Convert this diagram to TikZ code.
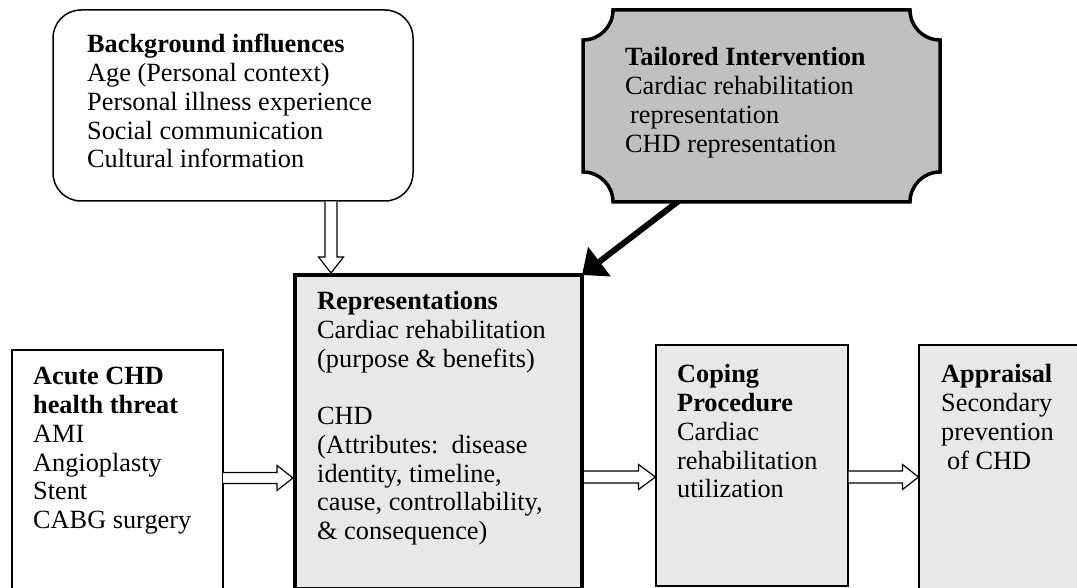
\documentclass[tikz,border=0pt]{standalone}
\usepackage{fontspec}
\setmainfont{Liberation Serif}
\usetikzlibrary{arrows.meta,calc}
\definecolor{lightbox}{RGB}{232,232,232}
\definecolor{tailgray}{RGB}{192,192,192}
\begin{document}
\begin{tikzpicture}[x=1pt,y=1pt,
  box/.style={draw=black, rectangle, inner sep=0pt, outer sep=0pt, anchor=north west},
  txt/.style={anchor=base west, inner sep=0pt, font=\fontsize{26.3}{28.7}\selectfont},
  blockarrow/.style={draw=black, fill=white, line width=1.2pt, line join=miter},
  bigarrow/.style={line width=6pt, -{Triangle[length=22pt,width=36pt]}}]
\useasboundingbox (0,0) rectangle (1077,588);

% boxes
\node[box, line width=1.5pt, rounded corners=28pt, fill=white,
      minimum width=360pt, minimum height=191pt] (bg) at (53,578) {};
\node[box, line width=1.2pt, fill=white,
      minimum width=211pt, minimum height=260pt] (acute) at (12,238) {};
\node[box, line width=4pt, fill=lightbox,
      minimum width=287pt, minimum height=314pt] (rep) at (295,313) {};
\node[box, line width=1.5pt, fill=lightbox,
      minimum width=192pt, minimum height=241pt] (coping) at (656,243) {};
\node[box, line width=1.5pt, fill=lightbox,
      minimum width=171pt, minimum height=253pt] (appr) at (919,243) {};
\node[inner sep=0pt, outer sep=0pt, minimum width=357pt, minimum height=192pt,
      anchor=south west] (tail) at (583,386) {};

% thick arrow from tailored intervention
\draw[bigarrow] ($(tail.south west)+(97pt,2pt)$) -- (rep.north east);

% tailored intervention plaque
\draw[line width=3.5pt, fill=tailgray]
  (613,578) -- (910,578) arc[start angle=180, end angle=270, radius=30]
  -- (940,416) arc[start angle=90, end angle=180, radius=30]
  -- (613,386) arc[start angle=0, end angle=90, radius=30]
  -- (583,548) arc[start angle=270, end angle=360, radius=30] -- cycle;

% block arrows
\coordinate (ay1) at (0,110);
\coordinate (ay2) at (0,111);
\coordinate (dx) at (331,0);
\draw[blockarrow] let \p1=(acute.east |- ay1), \p2=($(rep.west |- ay1)+(-2pt,0)$) in
  (\x1,\y1+5.5pt) -- (\x2-16pt,\y1+5.5pt) -- (\x2-16pt,\y1+12.5pt) -- (\x2,\y1)
  -- (\x2-16pt,\y1-12.5pt) -- (\x2-16pt,\y1-5.5pt) -- (\x1,\y1-5.5pt);
\draw[blockarrow] let \p1=($(rep.east |- ay2)+(2pt,0)$), \p2=($(coping.west |- ay2)+(-0.5pt,0)$) in
  (\x1,\y1+6pt) -- (\x2-17pt,\y1+6pt) -- (\x2-17pt,\y1+12.5pt) -- (\x2,\y1)
  -- (\x2-17pt,\y1-12.5pt) -- (\x2-17pt,\y1-6pt) -- (\x1,\y1-6pt);
\draw[blockarrow] let \p1=($(coping.east |- ay2)+(0.7pt,0)$), \p2=($(appr.west |- ay2)+(-0.5pt,0)$) in
  (\x1,\y1+6pt) -- (\x2-16pt,\y1+6pt) -- (\x2-16pt,\y1+12.5pt) -- (\x2,\y1)
  -- (\x2-16pt,\y1-12.5pt) -- (\x2-16pt,\y1-6pt) -- (\x1,\y1-6pt);
\draw[blockarrow] let \p1=($(dx |- bg.south)+(0,-0.7pt)$), \p2=($(dx |- rep.north)+(0,2pt)$) in
  (\x1-6pt,\y1) -- (\x1-6pt,\y2+16pt) -- (\x1-12.5pt,\y2+16pt) -- (\x1,\y2)
  -- (\x1+12.5pt,\y2+16pt) -- (\x1+6pt,\y2+16pt) -- (\x1+6pt,\y1);

% texts
\node[txt] (bgt) at (87,535) {\parbox[t]{320pt}{\raggedright
  \textbf{Background influences}\\Age (Personal context)\\Personal illness experience\\
  Social communication\\Cultural information}};
\node[txt] (tailt) at (625,522) {\parbox[t]{300pt}{\raggedright
  \textbf{Tailored Intervention}\\Cardiac rehabilitation\\\hspace*{5pt}representation\\
  CHD representation}};
\node[txt] (rept) at (317,278) {\parbox[t]{260pt}{\raggedright
  \textbf{Representations}\\Cardiac rehabilitation\\(purpose \& benefits)\\[28.7pt]
  CHD\\(Attributes:\ \ disease\\identity, timeline,\\cause, controllability,\\
  \& consequence)}};
\node[txt] (acutet) at (33,203) {\parbox[t]{190pt}{\raggedright
  \textbf{Acute CHD}\\\textbf{health threat}\\AMI\\Angioplasty\\Stent\\CABG surgery}};
\node[txt] (copingt) at (677,205) {\parbox[t]{170pt}{\raggedright
  \textbf{Coping}\\\textbf{Procedure}\\Cardiac\\rehabilitation\\utilization}};
\node[txt] (apprt) at (941,205) {\parbox[t]{140pt}{\raggedright
  \textbf{Appraisal}\\Secondary\\prevention\\\hspace*{6pt}of CHD}};
\end{tikzpicture}
\end{document}
